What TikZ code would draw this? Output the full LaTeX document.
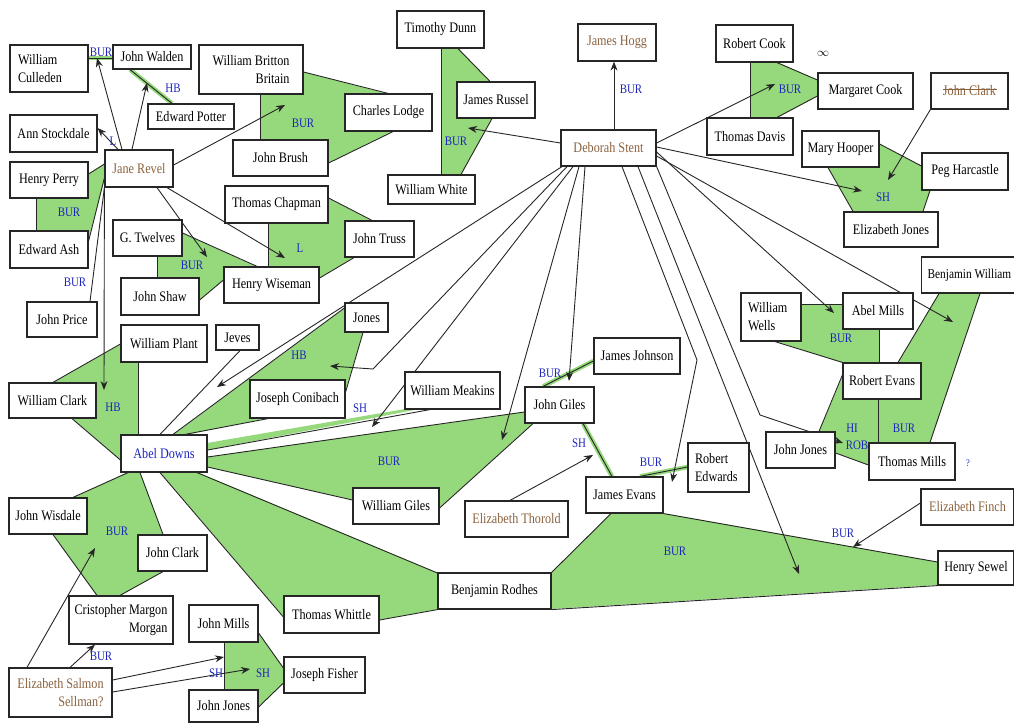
\documentclass[tikz,border=0pt]{standalone}
\usepackage{fontspec}
\setmainfont{Liberation Serif}[FakeStretch=0.84]
\usetikzlibrary{arrows.meta}
\definecolor{lcgreen}{RGB}{150,216,124}
\definecolor{lcblue}{RGB}{28,36,190}
\definecolor{lcbrown}{RGB}{138,98,62}
\newcommand{\namefont}{\fontsize{14.5}{18}\selectfont}
\newcommand{\tiefont}{\fontsize{13}{15}\selectfont}
\pgfdeclarelayer{background}
\pgfsetlayers{background,main}
\tikzset{
  pers/.style={draw=black!85, line width=1.2pt, fill=white, inner sep=0pt, font=\namefont},
  brn/.style={pers, text=lcbrown},
  tie/.style={font=\tiefont, text=lcblue, inner sep=0pt},
  link/.style={line width=0.9pt, draw=black!85},
  arr/.style={link, -{Stealth[length=9pt,width=7pt]}},
  gline/.style={link, preaction={draw=lcgreen, line width=4.5pt}},
  grp/.style={fill=lcgreen},
}

\begin{document}
\begin{tikzpicture}[x=1pt, y=-1pt]
\useasboundingbox (0,0) rectangle (1014,723);

% people
\node[pers, minimum width=78, minimum height=47, text width=62, align=left] (wculleden) at (49,68.5) {William\\Culleden};
\node[pers, minimum width=78, minimum height=24] (jwalden) at (152,57) {John Walden};
\node[pers, minimum width=104, minimum height=49, align=right] (wbritton) at (251,69.5) {William Britton\\Britain};
\node[pers, minimum width=86, minimum height=25] (epotter) at (191,116.5) {Edward Potter};
\node[pers, minimum width=87, minimum height=37] (astockdale) at (53.5,133.5) {Ann Stockdale};
\node[brn, minimum width=68, minimum height=37] (jrevel) at (139,168.5) {Jane Revel};
\node[pers, minimum width=78, minimum height=36] (hperry) at (49,180) {Henry Perry};
\node[pers, minimum width=95, minimum height=36] (jbrush) at (280.5,158) {John Brush};
\node[pers, minimum width=103, minimum height=37] (tchapman) at (276.5,204.5) {Thomas Chapman};
\node[pers, minimum width=78, minimum height=37] (eash) at (49,249.5) {Edward Ash};
\node[pers, minimum width=69, minimum height=36] (gtwelves) at (147.5,238) {G. Twelves};
\node[pers, minimum width=78, minimum height=37] (jshaw) at (160,296.5) {John Shaw};
\node[pers, minimum width=95, minimum height=36] (hwiseman) at (271.5,285) {Henry Wiseman};
\node[pers, minimum width=70, minimum height=35] (jprice) at (62,319.5) {John Price};
\node[pers, minimum width=86, minimum height=37] (wplant) at (164,343.5) {William Plant};
\node[pers, minimum width=43, minimum height=25] (jeves) at (237.5,337.5) {Jeves};
\node[pers, minimum width=87, minimum height=35] (wclark) at (52.5,400.5) {William Clark};
\node[pers, text=lcblue, minimum width=86, minimum height=37] (adowns) at (164,453.5) {Abel Downs};
\node[pers, minimum width=95, minimum height=38] (jconibach) at (297.5,399) {Joseph Conibach};
\node[pers, minimum width=43, minimum height=29] (jones) at (366.5,317.5) {Jones};
\node[pers, minimum width=95, minimum height=37] (wmeakins) at (452.5,390.5) {William Meakins};
\node[pers, minimum width=78, minimum height=36] (jwisdale) at (48,516) {John Wisdale};
\node[pers, minimum width=69, minimum height=36] (jclarkb) at (172.5,553) {John Clark};
\node[pers, minimum width=104, minimum height=48, align=right] (cmorgan) at (121,620) {Cristopher Margon\\Morgan};
\node[pers, minimum width=69, minimum height=37] (jmills) at (223.5,623.5) {John Mills};
\node[pers, minimum width=81, minimum height=36] (jfisher) at (324.5,675) {Joseph Fisher};
\node[pers, minimum width=69, minimum height=32] (jjonesb) at (223.5,706) {John Jones};
\node[brn, minimum width=103, minimum height=49, align=right] (esalmon) at (60.5,692.5) {Elizabeth Salmon\\Sellman?};
\node[pers, minimum width=95, minimum height=37] (twhittle) at (331.5,614.5) {Thomas Whittle};
\node[pers, minimum width=86, minimum height=36] (wgiles) at (396,506) {William Giles};
\node[pers, minimum width=113, minimum height=36] (brodhes) at (494.5,591) {Benjamin Rodhes};
\node[brn, minimum width=103, minimum height=36] (ethorold) at (516.5,519) {Elizabeth Thorold};
\node[pers, minimum width=77, minimum height=36] (jevans) at (624.5,495) {James Evans};
\node[pers, minimum width=69, minimum height=36] (jgiles) at (559.5,405) {John Giles};
\node[pers, minimum width=86, minimum height=36] (jjohnson) at (637,356) {James Johnson};
\node[pers, minimum width=61, minimum height=49, text width=47, align=left] (redwards) at (718.5,467.5) {Robert\\Edwards};
\node[pers, minimum width=87, minimum height=37] (tdunn) at (440.5,29.5) {Timothy Dunn};
\node[brn, minimum width=78, minimum height=37] (jhogg) at (617,42.5) {James Hogg};
\node[pers, minimum width=87, minimum height=37] (clodge) at (388.5,112.5) {Charles Lodge};
\node[pers, minimum width=78, minimum height=36] (jrussel) at (496,100) {James Russel};
\node[brn, minimum width=95, minimum height=36] (dstent) at (608.5,148) {Deborah Stent};
\node[pers, minimum width=87, minimum height=29] (wwhite) at (431.5,189.5) {William White};
\node[pers, minimum width=69, minimum height=36] (jtruss) at (379.5,239) {John Truss};
\node[pers, minimum width=77, minimum height=37] (rcook) at (754.5,43.5) {Robert Cook};
\node[pers, minimum width=95, minimum height=36] (mcook) at (865.5,91) {Margaret Cook};
\node[brn, minimum width=77, minimum height=36] (jclarkx) at (969.5,91) {John Clark};
\draw[lcbrown, line width=0.8pt] ([xshift=-27pt, yshift=1.5pt]jclarkx.center) -- ([xshift=27pt, yshift=1.5pt]jclarkx.center);
\node[pers, minimum width=86, minimum height=37] (tdavis) at (750,136.5) {Thomas Davis};
\node[pers, minimum width=77, minimum height=36] (mhooper) at (840.5,149) {Mary Hooper};
\node[pers, minimum width=86, minimum height=37] (pharcastle) at (965,171.5) {Peg Harcastle};
\node[pers, minimum width=94, minimum height=35] (ejones) at (891,229.5) {Elizabeth Jones};
\node[pers, anchor=west, inner xsep=6pt, minimum height=36, font=\fontsize{13.5}{18}\selectfont] (bwilliam) at (921,275) {Benjamin William};
\node[pers, minimum width=60, minimum height=48, text width=46, align=left] (wwells) at (771,317) {William\\Wells};
\node[pers, minimum width=70, minimum height=36] (amills) at (878,311) {Abel Mills};
\node[pers, minimum width=78, minimum height=36] (revans) at (882,381) {Robert Evans};
\node[pers, minimum width=69, minimum height=36] (jjonesr) at (800.5,450) {John Jones};
\node[pers, minimum width=86, minimum height=37] (tmills) at (912,461.5) {Thomas Mills};
\node[brn, minimum width=93, minimum height=36] (efinch) at (967.5,507) {Elizabeth Finch};
\node[pers, minimum width=76, minimum height=34] (hsewel) at (976,568) {Henry Sewel};

% arrow ends
\coordinate (jrw) at (97,58);
\coordinate (jrp) at (147,83);
\coordinate (jrb) at (285,105);
\coordinate (jrt) at (207,257);
\coordinate (jrc) at (285,258);
\coordinate (jrd) at (104,390);
\coordinate (dsr) at (468,128);
\coordinate (dsc) at (775,84);
\coordinate (dsh) at (862,191);
\coordinate (dsm) at (834,313);
\coordinate (dsb) at (953,322);
\coordinate (dsk) at (760,415);
\coordinate (dsj) at (843,443);
\coordinate (dss) at (799,574);
\coordinate (dse1) at (697,360);
\coordinate (dse) at (672,482);
\coordinate (dsg) at (569,381);
\coordinate (dsw) at (502,440);
\coordinate (dsn1) at (373,369);
\coordinate (dsn) at (330,366);
\coordinate (dsa) at (372,427);
\coordinate (dsd) at (217,387);
\coordinate (jcx) at (888,180);
\coordinate (eft) at (853,547);
\coordinate (etg) at (593,455);
\coordinate (esw) at (95,548);
\coordinate (esm) at (224,657);
\coordinate (esf) at (250,669);

% relation labels
\node[tie] (bcw) at (101,52) {BUR};
\node[tie] (hwp) at (173,88) {HB};
\node[tie] (las) at (113,141) {L};
\node[tie] (bpa) at (69,212) {BUR};
\node[tie] (bjp) at (75,282) {BUR};
\node[tie] (bbl) at (303,123) {BUR};
\node[tie] (bgt) at (192,265) {BUR};
\node[tie] (lct) at (300,248) {L};
\node[tie] (bdr) at (456,141) {BUR};
\node[tie] (bjh) at (631,89) {BUR};
\node[tie] (bcd) at (790,89) {BUR};
\node[tie] (shj) at (883,197) {SH};
\node[tie] (hpc) at (113,407) {HB};
\node[tie] (hjc) at (299,355) {HB};
\node[tie] (swm) at (360,408) {SH};
\node[tie] (bwg) at (389,461) {BUR};
\node[tie] (bwc) at (117,531) {BUR};
\node[tie] (bes) at (101,656) {BUR};
\node[tie] (sjm) at (216,673) {SH};
\node[tie] (sjf) at (263,673) {SH};
\node[tie] (bjj) at (550,373) {BUR};
\node[tie] (sge) at (579,443) {SH};
\node[tie] (bre) at (651,462) {BUR};
\node[tie] (bbr) at (675,551) {BUR};
\node[tie] (bef) at (843,533) {BUR};
\node[tie] (bwa) at (841,338) {BUR};
\node[tie] (hre) at (852,428) {HI};
\node[tie] (rre) at (857,445) {ROB};
\node[tie] (bmr) at (904,428) {BUR};
\node[tie, font=\fontsize{10}{12}\selectfont] (qtm) at (968,463) {?};
\node[font=\fontsize{12}{13}\selectfont] (inf) at (823,54) {$\infty$};

\begin{pgfonlayer}{background}
% shaded groups
\fill[grp] (260,94) -- (303,94) -- (303,72) -- (388,94) -- (393,131) -- (328,163) -- (328,140) -- (260,140) -- cycle;
\fill[grp] (441,48) -- (458,48) -- (490,82) -- (457,82) -- (457,118) -- (492,118) -- (461,175) -- (441,175) -- cycle;
\fill[grp] (750,62) -- (777,62) -- (818,80) -- (818,96) -- (777,118) -- (750,118) -- cycle;
\fill[grp] (828,167) -- (879,167) -- (879,144) -- (922,166) -- (922,190) -- (930,190) -- (923,212) -- (853,212) -- cycle;
\fill[grp] (36,198) -- (88,198) -- (88,174) -- (105,164) -- (105,178) -- (88,241) -- (88,231) -- (36,231) -- cycle;
\fill[grp] (157,256) -- (182,256) -- (182,233) -- (257,267) -- (224,267) -- (224,280) -- (199,300) -- (199,278) -- (157,278) -- cycle;
\fill[grp] (268,223) -- (328,223) -- (328,198) -- (372,221) -- (354,257) -- (319,278) -- (319,267) -- (268,267) -- cycle;
\fill[grp] (53,383) -- (121,344) -- (121,362) -- (138,362) -- (138,435) -- (121,435) -- (121,460) -- (72,418) -- (96,418) -- (96,383) -- cycle;
\fill[grp] (173,435) -- (345,308) -- (345,332) -- (363,332) -- (345,392) -- (345,418) -- (268,418) -- (185,435) -- cycle;
\fill[grp] (207,443) -- (405,409) -- (430,407) -- (207,450) -- cycle;
\fill[grp] (207,457) -- (525,412) -- (533,423) -- (439,508) -- (439,488) -- (353,488) -- (353,500) -- (207,467) -- cycle;
\fill[grp] (160,472) -- (197,472) -- (438,573) -- (438,609) -- (379,620) -- (379,596) -- (284,596) -- (284,617) -- cycle;
\fill[grp] (551,573) -- (611,513) -- (663,513) -- (938,562) -- (938,585) -- (551,609) -- cycle;
\fill[grp] (73,498) -- (128,472) -- (140,472) -- (163,535) -- (138,535) -- (138,571) -- (163,571) -- (120,596) -- (97,596) -- (53,534) -- (87,534) -- (87,498) -- cycle;
\fill[grp] (224,642) -- (258,642) -- (258,633) -- (284,668) -- (284,683) -- (258,707) -- (258,690) -- (224,690) -- cycle;
\fill[grp] (801,304) -- (843,304) -- (843,329) -- (879,329) -- (879,363) -- (843,363) -- (775,341) -- (801,341) -- cycle;
\fill[grp] (939,293) -- (980,293) -- (930,443) -- (869,465) -- (835,453) -- (819,432) -- (843,375) -- (898,363) -- cycle;

% group outlines
\draw[link] (wbritton.east |- 0,72) -- (clodge.north -| 388,0);
\draw[link] (clodge.south -| 393,0) -- (jbrush.east |- 0,163);
\draw[link] (wbritton.south -| 260,0) -- (jbrush.north -| 260,0);
\draw[link] (tdunn.south -| 441,0) -- (wwhite.north -| 441,0);
\draw[link] (tdunn.south -| 458,0) -- (jrussel.north -| 490,0);
\draw[link] (jrussel.south -| 492,0) -- (wwhite.north -| 461,0);
\draw[link] (rcook.south -| 750,0) -- (tdavis.north -| 750,0);
\draw[link] (rcook.south -| 777,0) -- (mcook.west |- 0,80);
\draw[link] (mcook.west |- 0,96) -- (tdavis.north -| 777,0);
\draw[link] (mhooper.east |- 0,144) -- (pharcastle.west |- 0,166);
\draw[link] (pharcastle.south -| 930,0) -- (ejones.north -| 923,0);
\draw[link] (mhooper.south -| 828,0) -- (ejones.north -| 853,0);
\draw[link] (hperry.east |- 0,174) -- (jrevel.west |- 0,164);
\draw[link] (hperry.south -| 36,0) -- (eash.north -| 36,0);
\draw[link] (eash.east |- 0,241) -- (jrevel.west |- 0,178);
\draw[link] (jprice.north -| 90,0) -- (jrevel.south west);
\draw[link] (gtwelves.south -| 157,0) -- (jshaw.north -| 157,0);
\draw[link] (gtwelves.east |- 0,233) -- (hwiseman.north -| 257,0);
\draw[link] (jshaw.east |- 0,300) -- (hwiseman.west |- 0,280);
\draw[link] (tchapman.south -| 268,0) -- (hwiseman.north -| 268,0);
\draw[link] (tchapman.east |- 0,198) -- (jtruss.north -| 372,0);
\draw[link] (jtruss.south -| 354,0) -- (hwiseman.east |- 0,278);
\draw[link] (wplant.west |- 0,344) -- (wclark.north -| 53,0);
\draw[link] (wplant.south -| 138,0) -- (adowns.north -| 138,0);
\draw[link] (wclark.south -| 72,0) -- (adowns.west |- 0,460);
\draw[link] (jones.west |- 0,308) -- (adowns.north -| 173,0);
\draw[link] (jones.south -| 363,0) -- (jconibach.east |- 0,392);
\draw[link] (jconibach.south -| 268,0) -- (adowns.north -| 185,0);
\draw[link] (jeves.south -| 240,0) -- (adowns.north -| 160,0);
\draw[link] (adowns.east |- 0,450) -- (wmeakins.south -| 430,0);
\draw[link] (adowns.east |- 0,457) -- (jgiles.west |- 0,412);
\draw[link] (jgiles.south -| 533,0) -- (wgiles.east |- 0,508);
\draw[link] (adowns.east |- 0,467) -- (wgiles.west |- 0,500);
\draw[link] (adowns.south -| 160,0) -- (twhittle.west |- 0,617);
\draw[link] (adowns.south -| 197,0) -- (brodhes.west |- 0,573);
\draw[link] (twhittle.east |- 0,620) -- (brodhes.south west);
\draw[link] (brodhes.north east) -- (jevans.south -| 611,0);
\draw[link] (jevans.south east) -- (hsewel.west |- 0,562);
\draw[link] (brodhes.south east) -- (hsewel.south west);
\draw[link] (adowns.south -| 128,0) -- (jwisdale.north -| 73,0);
\draw[link] (adowns.south -| 140,0) -- (jclarkb.north -| 163,0);
\draw[link] (jwisdale.south -| 53,0) -- (cmorgan.north -| 97,0);
\draw[link] (jclarkb.south -| 163,0) -- (cmorgan.north -| 120,0);
\draw[link] (jmills.south -| 224,0) -- (jjonesb.north -| 224,0);
\draw[link] (jmills.east |- 0,633) -- (jfisher.west |- 0,668);
\draw[link] (jfisher.west |- 0,683) -- (jjonesb.east |- 0,707);
\draw[link] (wwells.east |- 0,304) -- (amills.west |- 0,304);
\draw[link] (wwells.south -| 775,0) -- (revans.north west);
\draw[link] (amills.south -| 879,0) -- (revans.north -| 879,0);
\draw[link] (bwilliam.south -| 939,0) -- (revans.north -| 898,0);
\draw[link] (bwilliam.south -| 980,0) -- (tmills.north -| 930,0);
\draw[link] (revans.south -| 878,0) -- (tmills.north -| 878,0);
\draw[link] (revans.west |- 0,375) -- (jjonesr.north -| 819,0);
\draw[link] (jjonesr.east |- 0,453) -- (tmills.west |- 0,465);

% pairs
\draw[gline] (wculleden.east |- 0,58) -- (jwalden.west |- 0,58);
\draw[gline] (jwalden.south -| 130,0) -- (epotter.north -| 172,0);
\draw[gline] (jjohnson.west |- 0,361) -- (jgiles.north -| 543,0);
\draw[gline] (jgiles.south -| 583,0) -- (jevans.north -| 612,0);
\draw[gline] (redwards.west |- 0,467) -- (jevans.north -| 640,0);

% Jane Revel
\draw[arr] (jrevel.north -| 118,0) -- (astockdale.east |- 0,128);
\draw[arr] (jrevel.north -| 122,0) -- (jrw);
\draw[arr] (jrevel.north -| 132,0) -- (jrp);
\draw[arr] (jrevel.east |- 0,165) -- (jrb);
\draw[arr] (jrevel.south -| 157,0) -- (jrt);
\draw[arr] (jrevel.south -| 167,0) -- (jrc);
\draw[arr] (jrevel.south west) -- (jrd);

% Deborah Stent
\draw[arr] (dstent.north -| 614,0) -- (jhogg.south -| 614,0);
\draw[arr] (dstent.west |- 0,143) -- (dsr);
\draw[arr] (dstent.east |- 0,143) -- (dsc);
\draw[arr] (dstent.east |- 0,147) -- (dsh);
\draw[arr] (dstent.east |- 0,152) -- (dsm);
\draw[arr] (dstent.east |- 0,156) -- (dsb);
\draw[arr] (dstent.south east) -- (dsk) -- (dsj);
\draw[arr] (dstent.south -| 638,0) -- (dss);
\draw[arr] (dstent.south -| 622,0) -- (dse1) -- (dse);
\draw[arr] (dstent.south -| 585,0) -- (dsg);
\draw[arr] (dstent.south -| 579,0) -- (dsw);
\draw[arr] (dstent.south -| 567,0) -- (dsn1) -- (dsn);
\draw[arr] (dstent.south -| 573,0) -- (dsa);
\draw[arr] (dstent.south -| 562,0) -- (dsd);

% others
\draw[arr] (jclarkx.south west) -- (jcx);
\draw[arr] (efinch.west |- 0,503) -- (eft);
\draw[arr] (ethorold.north -| 510,0) -- (etg);
\draw[arr] (esalmon.north -| 27,0) -- (esw);
\draw[arr] (esalmon.north -| 70,0) -- (cmorgan.south -| 95,0);
\draw[arr] (esalmon.east |- 0,680) -- (esm);
\draw[arr] (esalmon.east |- 0,692) -- (esf);
\end{pgfonlayer}
\end{tikzpicture}
\end{document}
